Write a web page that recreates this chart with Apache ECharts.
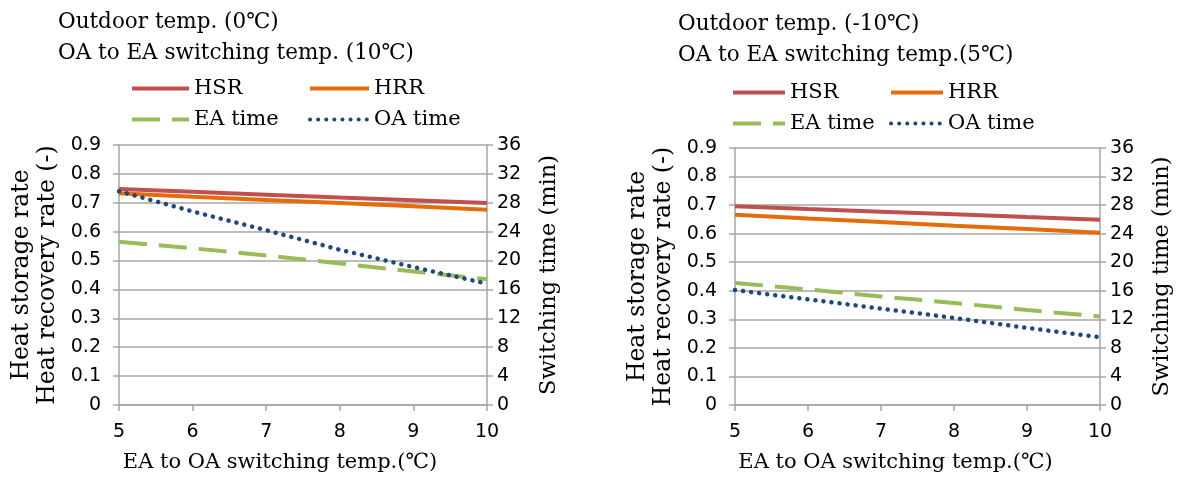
<!DOCTYPE html>
<html>
<head>
<meta charset="utf-8">
<script src="https://cdn.jsdelivr.net/npm/echarts@6/dist/echarts.min.js"></script>
<style>
  html, body { margin: 0; padding: 0; background: #fff; }
  #chart { width: 1184px; height: 480px; }
</style>
</head>
<body>
<div id="chart"></div>
<script>
  // EA to OA switching temp. (℃)
  var temps = [5, 6, 7, 8, 9, 10];

  // left panel: outdoor 0℃, OA->EA 10℃
  var hsrA = [0.748, 0.738, 0.728, 0.718, 0.709, 0.699];
  var hrrA = [0.733, 0.721, 0.710, 0.699, 0.688, 0.676];
  var eaA = [22.6, 21.7, 20.7, 19.6, 18.5, 17.4];
  var oaA = [29.6, 26.8, 24.2, 21.5, 19.1, 16.8];

  // right panel: outdoor -10℃, OA->EA 5℃
  var hsrB = [0.696, 0.686, 0.677, 0.668, 0.658, 0.649];
  var hrrB = [0.666, 0.653, 0.641, 0.628, 0.616, 0.603];
  var eaB = [17.1, 16.2, 15.2, 14.3, 13.3, 12.4];
  var oaB = [16.1, 14.8, 13.5, 12.2, 10.8, 9.5];

  var colors = ['#c0504d', '#e46c0a', '#9bbb59', '#1f497d'];
  var serif = 'DejaVu Serif';
  var sans = 'DejaVu Sans';
  var gridGrey = '#a6a6a6';

  function pairs(ys) {
    return temps.map(function (t, i) { return [t, ys[i]]; });
  }

  function xAxis(grid, pad) {
    return {
      type: 'value', gridIndex: grid, min: 5, max: 10, interval: 1,
      name: 'EA to OA switching temp.(℃)', nameLocation: 'middle', nameGap: 47,
      nameTextStyle: { fontFamily: serif, fontSize: 21, color: '#000', padding: [0, pad, 0, 0] },
      axisLine: { lineStyle: { color: gridGrey, width: 1.5 } },
      axisTick: { show: true, length: 6, lineStyle: { color: gridGrey, width: 1.5 } },
      axisLabel: { fontFamily: sans, fontSize: 19, color: '#000', margin: 18 },
      splitLine: { show: false }
    };
  }

  function leftAxis(grid) {
    return {
      type: 'value', gridIndex: grid, position: 'left', min: 0, max: 0.9, interval: 0.1,
      name: 'Heat storage rate\nHeat recovery rate (-)', nameLocation: 'middle', nameRotate: 90, nameGap: 58,
      nameTextStyle: { fontFamily: serif, fontSize: 23.5, color: '#000', lineHeight: 26 },
      axisLine: { show: true, lineStyle: { color: gridGrey, width: 1.5 } },
      axisTick: { show: true, length: 6, lineStyle: { color: gridGrey, width: 1.5 } },
      axisLabel: { fontFamily: sans, fontSize: 19, color: '#000', margin: 18,
        formatter: function (v) { return v === 0 ? '0' : v.toFixed(1); } },
      splitLine: { show: true, lineStyle: { color: gridGrey, width: 1.5 } }
    };
  }

  function rightAxis(grid) {
    return {
      type: 'value', gridIndex: grid, position: 'right', min: 0, max: 36, interval: 4,
      name: 'Switching time (min)', nameLocation: 'middle', nameRotate: 90, nameGap: 51,
      nameTextStyle: { fontFamily: serif, fontSize: 22.5, color: '#000' },
      axisLine: { show: true, lineStyle: { color: gridGrey, width: 1.5 } },
      axisTick: { show: true, length: 6, lineStyle: { color: gridGrey, width: 1.5 } },
      axisLabel: { fontFamily: sans, fontSize: 19, color: '#000', margin: 10 },
      splitLine: { show: false }
    };
  }

  function series(name, data, xi, yi, color, type) {
    var ls = { color: color, width: 4 };
    if (type === 'dashed') { ls.type = [28, 12]; }
    if (type === 'dotted') { ls.type = [0.1, 8]; ls.cap = 'round'; ls.width = 4.5; }
    return {
      name: name, type: 'line', xAxisIndex: xi, yAxisIndex: yi,
      data: pairs(data), symbol: 'none', color: color, lineStyle: ls,
      animation: false
    };
  }

  function legend(names, left, top, w) {
    return {
      data: names,
      orient: 'vertical', left: left, top: top, padding: 0,
      itemWidth: w, itemHeight: 14, itemGap: 10,
      itemStyle: { opacity: 0 },
      lineStyle: { width: 4 },
      textStyle: { fontFamily: serif, fontSize: 21, color: '#000' }
    };
  }

  var myChart = echarts.init(document.getElementById('chart'));
  var option = {
    backgroundColor: '#fff',
    animation: false,
    title: [
      { text: 'Outdoor temp. (0℃)\nOA to EA switching temp. (10℃)', left: 53, top: 2,
        textStyle: { fontFamily: serif, fontSize: 21.5, fontWeight: 'normal', color: '#000', lineHeight: 31 } },
      { text: 'Outdoor temp. (-10℃)\nOA to EA switching temp.(5℃)', left: 673, top: 4,
        textStyle: { fontFamily: serif, fontSize: 21.5, fontWeight: 'normal', color: '#000', lineHeight: 31 } }
    ],
    legend: [
      legend(['HSR', 'EA time'], 130, 78, 57),
      legend(['HRR', 'OA time'], 308, 78, 59),
      legend(['HSR', 'EA time'], 731, 82, 52),
      legend(['HRR', 'OA time'], 889, 82, 52)
    ],
    grid: [
      { left: 119, right: 697, top: 145, bottom: 75 },
      { left: 735, right: 84, top: 148, bottom: 75 }
    ],
    xAxis: [xAxis(0, 46), xAxis(1, 44)],
    yAxis: [leftAxis(0), rightAxis(0), leftAxis(1), rightAxis(1)],
    series: [
      series('HSR', hsrA, 0, 0, colors[0]),
      series('HRR', hrrA, 0, 0, colors[1]),
      series('EA time', eaA, 0, 1, colors[2], 'dashed'),
      series('OA time', oaA, 0, 1, colors[3], 'dotted'),
      series('HSR', hsrB, 1, 2, colors[0]),
      series('HRR', hrrB, 1, 2, colors[1]),
      series('EA time', eaB, 1, 3, colors[2], 'dashed'),
      series('OA time', oaB, 1, 3, colors[3], 'dotted')
    ]
  };
  myChart.setOption(option);
</script>
</body>
</html>
